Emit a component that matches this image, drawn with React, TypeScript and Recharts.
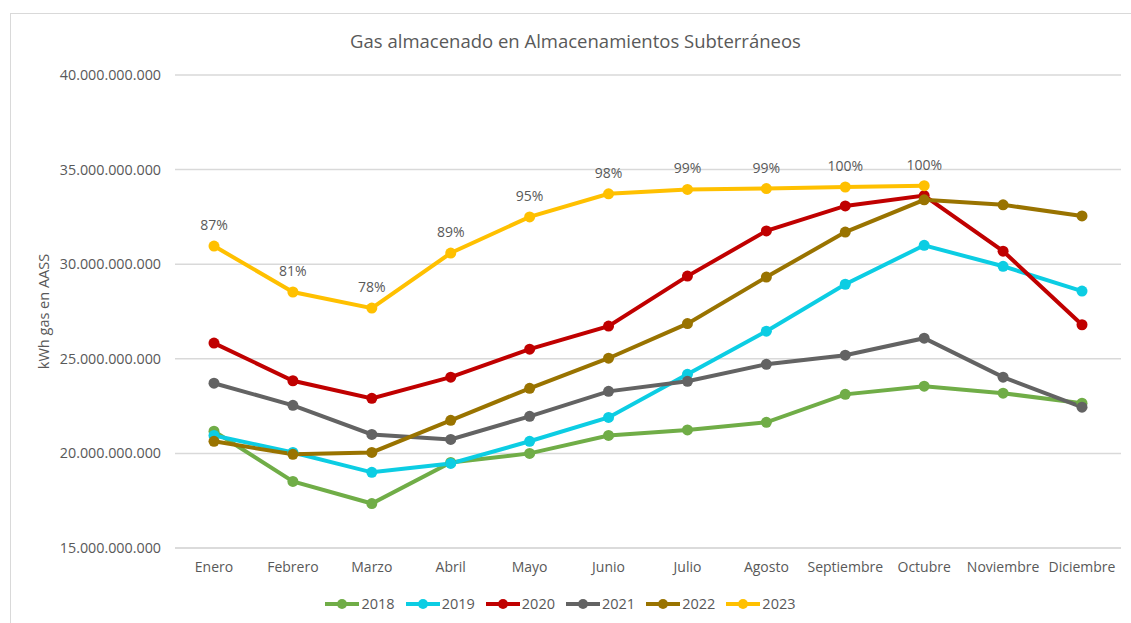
import React from 'react';
import {
  LineChart, Line, XAxis, YAxis, CartesianGrid, Legend, LabelList,
} from 'recharts';

const FONT = '"Open Sans", "Noto Sans", sans-serif';
const TEXT = '#595959';

const months = [
  'Enero', 'Febrero', 'Marzo', 'Abril', 'Mayo', 'Junio',
  'Julio', 'Agosto', 'Septiembre', 'Octubre', 'Noviembre', 'Diciembre',
];

const y2018 = [21.17, 18.52, 17.35, 19.52, 20.0, 20.95, 21.24, 21.64, 23.12, 23.55, 23.18, 22.65];
const y2019 = [20.95, 20.05, 19.0, 19.47, 20.64, 21.9, 24.18, 26.46, 28.94, 31.0, 29.89, 28.58];
const y2020 = [25.83, 23.84, 22.91, 24.03, 25.51, 26.73, 29.37, 31.76, 33.08, 33.63, 30.69, 26.8];
const y2021 = [23.71, 22.54, 21.0, 20.74, 21.96, 23.28, 23.81, 24.71, 25.19, 26.09, 24.03, 22.44];
const y2022 = [20.64, 19.95, 20.05, 21.75, 23.44, 25.03, 26.86, 29.32, 31.7, 33.4, 33.14, 32.55];
const y2023 = [30.96, 28.53, 27.68, 30.59, 32.5, 33.72, 33.95, 34.0, 34.08, 34.15, null, null];
const fill2023 = ['87%', '81%', '78%', '89%', '95%', '98%', '99%', '99%', '100%', '100%', '', ''];

const yTicks = [15, 20, 25, 30, 35, 40];

const series = [
  { key: '2018', values: y2018, color: '#70AD47' },
  { key: '2019', values: y2019, color: '#0CCDE3' },
  { key: '2020', values: y2020, color: '#C00000' },
  { key: '2021', values: y2021, color: '#636363' },
  { key: '2022', values: y2022, color: '#997300' },
  { key: '2023', values: y2023, color: '#FFC000' },
];

const data = months.map((m, i) => {
  const row: Record<string, any> = { month: m, pct: fill2023[i] };
  series.forEach(s => {
    const v = s.values[i];
    row[s.key] = v == null ? null : v * 1e9;
  });
  return row;
});

const fmt = (v: number) => Math.round(v).toString().replace(/\B(?=(\d{3})+(?!\d))/g, '.');

const LegendContent = () => (
  <div style={{ display: 'flex', justifyContent: 'center', gap: 11, fontFamily: FONT, fontSize: 14.5, color: TEXT }}>
    {series.map(s => (
      <span key={s.key} style={{ display: 'flex', alignItems: 'center' }}>
        <svg width={34} height={12} style={{ marginRight: 2 }}>
          <line x1={0} y1={6} x2={34} y2={6} stroke={s.color} strokeWidth={4} />
          <circle cx={17} cy={6} r={5} fill={s.color} />
        </svg>
        {s.key}
      </span>
    ))}
  </div>
);

export default function App() {
  return (
    <div style={{ position: 'absolute', left: 0, top: 0, width: 1131, height: 623, overflow: 'hidden', background: '#fff' }}>
      <div style={{ position: 'absolute', left: 10, top: 13, width: 1200, height: 700, border: '1px solid #d9d9d9' }} />
      <div style={{ position: 'absolute', left: 0, top: 28, width: 1151, textAlign: 'center', fontFamily: FONT, fontSize: 18.5, color: TEXT }}>
        Gas almacenado en Almacenamientos Subterráneos
      </div>
      <div style={{ position: 'absolute', left: 0, top: 0 }}>
        <LineChart width={1131} height={623} data={data} margin={{ top: 75, right: 10, bottom: 10, left: 0 }}>
          <CartesianGrid vertical={false} stroke="#d9d9d9" strokeWidth={1.5} />
          <XAxis
            dataKey="month"
            height={46}
            padding={{ left: 39, right: 39 }}
            axisLine={{ stroke: '#d9d9d9', strokeWidth: 1.5 }}
            tickLine={false}
            tickMargin={8}
            tick={{ fill: TEXT, fontSize: 14, fontFamily: FONT }}
            interval={0}
          />
          <YAxis
            width={175}
            domain={[15e9, 40e9]}
            ticks={yTicks.map(t => t * 1e9)}
            tickFormatter={fmt}
            axisLine={false}
            tickLine={false}
            tickMargin={8}
            tick={{ fill: TEXT, fontSize: 14.3, fontFamily: FONT }}
            label={{ value: 'kWh gas en AASS', angle: -90, position: 'insideLeft', offset: 44, style: { fill: TEXT, fontSize: 14.5, fontFamily: FONT, textAnchor: 'middle' } }}
          />
          <Legend verticalAlign="bottom" content={<LegendContent />} />
          {series.map(s => (
            <Line
              key={s.key}
              dataKey={s.key}
              stroke={s.color}
              strokeWidth={4}
              dot={{ r: 5.5, fill: s.color, stroke: s.color, strokeWidth: 0 }}
              activeDot={false}
              isAnimationActive={false}
              connectNulls={false}
            >
              {s.key === '2023' && (
                <LabelList dataKey="pct" position="top" offset={16} style={{ fill: TEXT, fontSize: 14, fontFamily: FONT }} />
              )}
            </Line>
          ))}
        </LineChart>
      </div>
    </div>
  );
}
